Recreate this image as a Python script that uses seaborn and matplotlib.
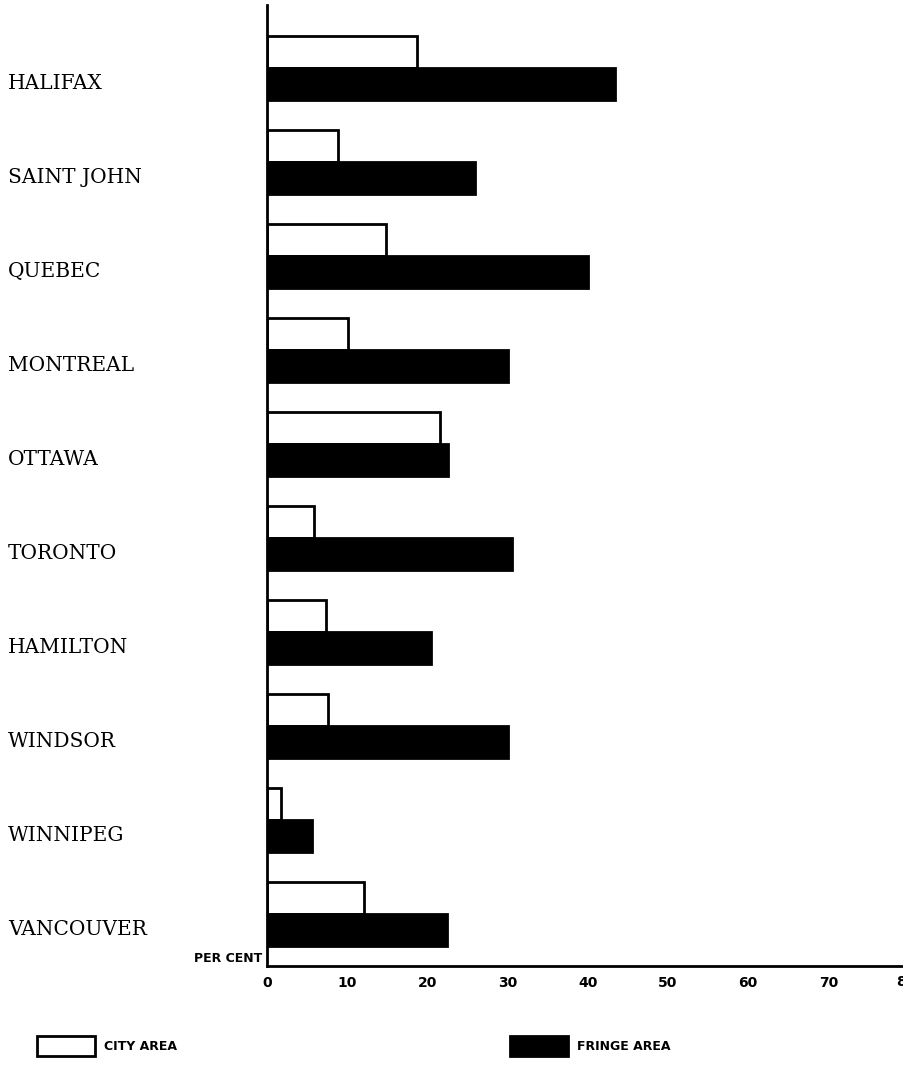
import matplotlib
matplotlib.use('Agg')
import matplotlib.pyplot as plt
import seaborn as sns
import pandas as pd
from matplotlib.patches import Patch
from matplotlib.transforms import blended_transform_factory

cities = ['HALIFAX', 'SAINT JOHN', 'QUEBEC', 'MONTREAL', 'OTTAWA',
          'TORONTO', 'HAMILTON', 'WINDSOR', 'WINNIPEG', 'VANCOUVER']
city_area = [18.7, 8.8, 14.9, 10.1, 21.6, 5.9, 7.3, 7.6, 1.8, 12.1]
fringe_area = [43.4, 25.9, 40.0, 30.0, 22.6, 30.6, 20.4, 30.1, 5.6, 22.4]
series = ['CITY AREA', 'FRINGE AREA']
xticks = [0, 10, 20, 30, 40, 50, 60, 70, 80]
axis_label = 'PER CENT'

df = pd.DataFrame({
    'city': cities * 2,
    'area': [series[0]] * len(cities) + [series[1]] * len(cities),
    'pct': city_area + fringe_area,
})

sns.set_theme(style='white')
plt.rcParams['font.family'] = ['DejaVu Sans']
plt.rcParams['text.color'] = 'black'
plt.rcParams['axes.labelcolor'] = 'black'
plt.rcParams['xtick.color'] = 'black'

W, H = 904, 1081
fig = plt.figure(figsize=(W / 100, H / 100), dpi=100)
left_px, top_px, bottom_px = 267, 5, 966
ax = fig.add_axes([left_px / W, 1 - bottom_px / H, 1 - left_px / W, (bottom_px - top_px) / H])

sns.barplot(data=df, y='city', x='pct', hue='area', order=cities, hue_order=series,
            palette={series[0]: 'white', series[1]: 'black'}, edgecolor='black',
            linewidth=2, width=0.68, ax=ax, legend=False, orient='h')

ax.set_xlim(0, (W - left_px) / 8.02)
ax.set_ylim(9.553, -0.67)
ax.set_xlabel('')
ax.set_ylabel('')
ax.set_yticks([])
ax.set_xticks(xticks[:-1])
ax.set_xticklabels([str(t) for t in xticks[:-1]], fontweight='bold', fontsize=10)
ax.tick_params(axis='x', direction='in', length=4, width=1.5, colors='black', pad=7)
ax.grid(False)
for s in ['top', 'right']:
    ax.spines[s].set_visible(False)
for s in ['left', 'bottom']:
    ax.spines[s].set_linewidth(2)
    ax.spines[s].set_color('black')

# last tick label, partly cut by the figure edge as in the original
trans_x = blended_transform_factory(ax.transData, ax.transAxes)
ax.text(xticks[-1] - 0.3, -9.5 / (bottom_px - top_px), str(xticks[-1]), transform=trans_x,
        ha='center', va='top', fontsize=10, fontweight='bold', clip_on=False,
        color='black')

# city names aligned with the fringe bars
trans_y = blended_transform_factory(ax.transAxes, ax.transData)
x_lab = (8 - left_px) / (W - left_px)
for i, name in enumerate(cities):
    ax.text(x_lab, i + 0.17, name, transform=trans_y, ha='left', va='center',
            fontsize=14.5, fontfamily='DejaVu Serif', color='black')

fig.text(262 / W, 1 - 959 / H, axis_label, ha='right', va='center',
         fontsize=9, fontweight='bold', color='black')

fs = 9
h1 = [Patch(facecolor='white', edgecolor='black', linewidth=2, label=series[0])]
h2 = [Patch(facecolor='black', edgecolor='black', linewidth=2, label=series[1])]
for handles, xpx in [(h1, 37), (h2, 510)]:
    leg = fig.legend(handles=handles, loc='center left', bbox_to_anchor=(xpx / W, 1 - 1046 / H),
                     frameon=False, handlelength=58 / 12.5, handleheight=25 / 12.5,
                     handletextpad=0.7, borderpad=0, borderaxespad=0,
                     prop={'size': fs, 'weight': 'bold'})
    for t in leg.get_texts():
        t.set_color('black')

fig.savefig('out.png', dpi=100)
